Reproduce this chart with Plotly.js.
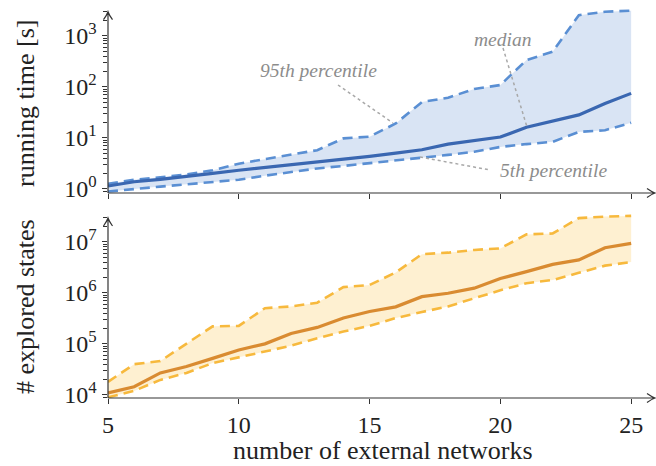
<!DOCTYPE html>
<html><head><meta charset="utf-8">
<script src="https://cdn.plot.ly/plotly-3.0.1.min.js"></script>
<style>html,body{margin:0;padding:0;background:#fff}#chart{width:656px;height:466px}</style>
</head><body><div id="chart"></div>
<script>
const networks = [5,6,7,8,9,10,11,12,13,14,15,16,17,18,19,20,21,22,23,24,25];
const timeMedian = [1.13,1.37,1.53,1.72,2.0,2.3,2.6,2.9,3.3,3.8,4.3,5.0,5.8,7.5,8.8,10.3,16,21,28,47,74];
const timeP95 = [1.25,1.5,1.67,1.9,2.3,3.1,3.8,4.7,5.7,9.7,10.5,19,50,61,90,108,333,485,2530,2950,3100];
const timeP5 = [0.88,1.0,1.1,1.22,1.37,1.5,1.8,2.1,2.5,2.8,3.15,3.65,4.1,4.6,5.3,6.6,7.5,8.3,13,14,19.6];
const statesMedian = [1.1e4,1.45e4,2.7e4,3.6e4,5.2e4,7.6e4,1.0e5,1.6e5,2.1e5,3.2e5,4.3e5,5.3e5,8.4e5,9.8e5,1.23e6,1.9e6,2.6e6,3.6e6,4.4e6,7.6e6,9.3e6];
const statesP95 = [1.8e4,4.0e4,4.6e4,1.02e5,2.2e5,2.25e5,5.0e5,5.4e5,6.4e5,1.29e6,1.42e6,2.5e6,5.7e6,6.1e6,6.9e6,7.4e6,1.39e7,1.45e7,2.9e7,3.1e7,3.2e7];
const statesP5 = [9.0e3,1.2e4,1.97e4,2.7e4,4.2e4,5.5e4,7.0e4,9.2e4,1.29e5,1.74e5,2.25e5,3.2e5,4.2e5,5.4e5,7.8e5,1.12e6,1.54e6,1.78e6,2.46e6,3.4e6,4.0e6];
const xTickVals = [5,10,15,20,25];
const xTickText = ['5','10','15','20','25'];
const timeTickVals = [1,10,100,1000];
const timeTickText = ['10<sup>0</sup>','10<sup>1</sup>','10<sup>2</sup>','10<sup>3</sup>'];
const statesTickVals = [1e4,1e5,1e6,1e7];
const statesTickText = ['10<sup>4</sup>','10<sup>5</sup>','10<sup>6</sup>','10<sup>7</sup>'];
const labels = {p95: '95th percentile', median: 'median', p5: '5th percentile'};
const titles = {x: 'number of external networks', time: 'running time [s]', states: '# explored states'};

const W = 656, H = 466;
const FONT = 'Liberation Serif';
const AX = '#333';
const blue = {line: '#3a67b1', dash: '#5a8fd3', fill: 'rgba(196,214,238,0.65)'};
const orange = {line: '#d98b31', dash: '#f7b93d', fill: 'rgba(253,234,190,0.7)'};
const DASH = '10px,6px';

function band(lo, hi, med, c, xa, ya) {
  return [
    {x: networks, y: lo, xaxis: xa, yaxis: ya, mode: 'lines', line: {color: c.dash, width: 2.6, dash: DASH}, hoverinfo: 'skip'},
    {x: networks, y: hi, xaxis: xa, yaxis: ya, mode: 'lines', fill: 'tonexty', fillcolor: c.fill, line: {color: c.dash, width: 2.6, dash: DASH}, hoverinfo: 'skip'},
    {x: networks, y: med, xaxis: xa, yaxis: ya, mode: 'lines', line: {color: c.line, width: 3.2}, hoverinfo: 'skip'}
  ];
}
const data = [].concat(
  band(timeP5, timeP95, timeMedian, blue, 'x', 'y'),
  band(statesP5, statesP95, statesMedian, orange, 'x2', 'y2')
);

const XR = [5, 25.95];
const XD = [108/W, 1];
const YR1 = [-0.084, 3.55], YD1 = [1-193/H, 1-7.65/H];
const YR2 = [3.94, 7.56], YD2 = [1-398/H, 1-213.1/H];
const tickFont = {family: FONT, size: 24, color: '#222'};
const titleFont = {family: FONT, size: 26, color: '#222'};

function xax(anchor, ticks, labelsOn, extra) {
  return Object.assign({domain: XD, range: XR, anchor: anchor, tickmode: 'array', tickvals: xTickVals, ticktext: xTickText,
    ticks: ticks, ticklen: 5, tickwidth: 1, tickcolor: AX, showticklabels: labelsOn, tickfont: tickFont,
    showline: false, zeroline: false, showgrid: false, fixedrange: true}, extra || {});
}
function yax(anchor, range, domain, tv, tt, ticks, labelsOn, extra) {
  return Object.assign({domain: domain, range: range, anchor: anchor, type: 'log', tickmode: 'array', tickvals: tv, ticktext: tt,
    ticks: ticks, ticklen: 5.5, tickwidth: 1, tickcolor: AX, showticklabels: labelsOn, tickfont: tickFont,
    minor: {dtick: 'D1', ticks: ticks, ticklen: 4, tickwidth: 1, tickcolor: AX, showgrid: false},
    showline: false, zeroline: false, showgrid: false, fixedrange: true}, extra || {});
}

// axis lines with open arrow heads (pixel positions -> paper)
const P = (x, y) => (x / W).toFixed(5) + ',' + (1 - y / H).toFixed(5);
function vArrow(x, y0, y1) {
  return 'M' + P(x, y0) + 'L' + P(x, y1) + 'M' + P(x - 4.5, y1 + 8) + 'Q' + P(x - 1, y1 + 3) + ' ' + P(x, y1) + 'Q' + P(x + 1, y1 + 3) + ' ' + P(x + 4.5, y1 + 8);
}
function hArrow(y, x0, x1) {
  return 'M' + P(x0, y) + 'L' + P(x1, y) + 'M' + P(x1 - 8, y - 4.5) + 'Q' + P(x1 - 3, y - 1) + ' ' + P(x1, y) + 'Q' + P(x1 - 3, y + 1) + ' ' + P(x1 - 8, y + 4.5);
}
const axisLine = {color: AX, width: 1.2};
const noteFont = {family: FONT, size: 19.5, color: '#8c8c8c'};

const layout = {
  width: W, height: H,
  margin: {l: 0, r: 0, t: 0, b: 0},
  paper_bgcolor: '#fff', plot_bgcolor: 'rgba(0,0,0,0)',
  showlegend: false,
  font: {family: FONT, color: '#222'},
  xaxis: xax('y', 'outside', false),
  xaxis2: xax('y2', 'outside', true),
  xaxis3: xax('y', 'inside', false, {overlaying: 'x'}),
  xaxis4: xax('y2', 'inside', false, {overlaying: 'x2'}),
  yaxis: yax('x', YR1, YD1, timeTickVals, timeTickText, 'outside', true),
  yaxis2: yax('x2', YR2, YD2, statesTickVals, statesTickText, 'outside', true),
  yaxis3: yax('x', YR1, YD1, timeTickVals, timeTickText, 'inside', false, {overlaying: 'y'}),
  yaxis4: yax('x2', YR2, YD2, statesTickVals, statesTickText, 'inside', false, {overlaying: 'y2'}),
  annotations: [
    {xref: 'paper', yref: 'paper', x: 383/W, y: 0, xanchor: 'center', yanchor: 'bottom', borderpad: 0, text: titles.x, showarrow: false, font: titleFont},
    {xref: 'paper', yref: 'paper', x: 25/W, y: 1-103/H, xanchor: 'center', yanchor: 'middle', textangle: -90, text: titles.time, showarrow: false, font: titleFont},
    {xref: 'paper', yref: 'paper', x: 25/W, y: 1-307/H, xanchor: 'center', yanchor: 'middle', textangle: -90, text: titles.states, showarrow: false, font: titleFont},
    {xref: 'paper', yref: 'paper', x: 318/W, y: 1-70/H, xanchor: 'center', yanchor: 'middle', text: '<i>' + labels.p95 + '</i>', showarrow: false, font: noteFont},
    {xref: 'paper', yref: 'paper', x: 502/W, y: 1-39/H, xanchor: 'center', yanchor: 'middle', text: '<i>' + labels.median + '</i>', showarrow: false, font: noteFont},
    {xref: 'paper', yref: 'paper', x: 553/W, y: 1-170/H, xanchor: 'center', yanchor: 'middle', text: '<i>' + labels.p5 + '</i>', showarrow: false, font: noteFont}
  ],
  shapes: [
    {type: 'path', xref: 'paper', yref: 'paper', path: vArrow(108, 193, 11.7), line: axisLine},
    {type: 'path', xref: 'paper', yref: 'paper', path: hArrow(193, 108, 655), line: axisLine},
    {type: 'path', xref: 'paper', yref: 'paper', path: vArrow(108, 398, 218), line: axisLine},
    {type: 'path', xref: 'paper', yref: 'paper', path: hArrow(398, 108, 655), line: axisLine},
    {type: 'line', xref: 'paper', yref: 'paper', x0: 338/W, y0: 1-85/H, x1: 393/W, y1: 1-123/H, line: {color: '#a8a8a8', width: 1.5, dash: 'dot'}},
    {type: 'line', xref: 'paper', yref: 'paper', x0: 503/W, y0: 1-48/H, x1: 527/W, y1: 1-127/H, line: {color: '#a8a8a8', width: 1.5, dash: 'dot'}},
    {type: 'line', xref: 'paper', yref: 'paper', x0: 420/W, y0: 1-157/H, x1: 490/W, y1: 1-170/H, line: {color: '#a8a8a8', width: 1.5, dash: 'dot'}}
  ]
};

Plotly.newPlot('chart', data, layout, {displayModeBar: false, staticPlot: true});
</script>
</body></html>
